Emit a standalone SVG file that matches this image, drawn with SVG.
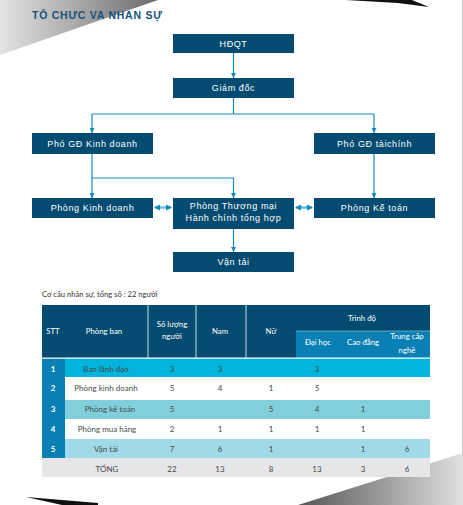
<svg xmlns="http://www.w3.org/2000/svg" width="463" height="505" viewBox="0 0 463 505">
<defs>
<linearGradient id="gTL" x1="0" y1="0" x2="1" y2="0">
<stop offset="0" stop-color="#e4e4e6"/>
<stop offset="1" stop-color="#6a6a6a"/>
</linearGradient>
<linearGradient id="gBR" x1="0" y1="0" x2="1" y2="0">
<stop offset="0" stop-color="#555555"/>
<stop offset="1" stop-color="#e0e0e2"/>
</linearGradient>
<marker id="arr" viewBox="0 0 6 6" refX="6" refY="3" markerWidth="5" markerHeight="5" orient="auto" markerUnits="userSpaceOnUse">
<path d="M0,0 L6,3 L0,6 Z" fill="#1a87bf"/>
</marker>
<marker id="arr2" viewBox="0 0 6 6" refX="5" refY="3" markerWidth="6" markerHeight="6" orient="auto-start-reverse" markerUnits="userSpaceOnUse">
<path d="M0,0 L6,3 L0,6 Z" fill="#1a87bf"/>
</marker>
</defs>
<style>
.box{fill:#034b70}
.bt{font-family:"Liberation Sans",Arial,sans-serif;font-size:9px;fill:#ffffff;text-anchor:middle;letter-spacing:0.6px}
.ln{stroke:#1a87bf;stroke-width:1.2;fill:none}
.dl{stroke:#6cbfe2;stroke-width:2.5;fill:none}
.th{font-family:Lato,"Open Sans",sans-serif;font-size:7.8px;fill:#ffffff;text-anchor:middle}
.td{font-family:Lato,"Open Sans",sans-serif;font-size:8px;fill:#4a4a4a;text-anchor:middle}
.tw{font-family:Lato,"Open Sans",sans-serif;font-size:8px;fill:#ffffff;text-anchor:middle;font-weight:bold}
</style>
<rect width="463" height="505" fill="#ffffff"/>
<polygon points="0,0 158,0 0,55" fill="url(#gTL)"/>
<polygon points="346,0 412,0 429,7 398,3" fill="#111111"/>
<line x1="462.5" y1="0" x2="462.5" y2="456" stroke="#c8c8c8" stroke-width="1"/>
<polygon points="463,453 298,505 463,505" fill="url(#gBR)"/>
<polygon points="26,497 98,503 98,505 62,505" fill="#111111"/>
<text x="32" y="19" font-family="'Liberation Sans',Arial,sans-serif" font-size="10.5" font-weight="bold" fill="#16527a" letter-spacing="0.75">TÔ CHƯC VA NHAN  SỰ</text>

<g id="connectors">
<line class="ln" x1="233.5" y1="53" x2="233.5" y2="78" marker-end="url(#arr)"/>
<polyline class="ln" points="233.5,98 233.5,114"/>
<line class="ln" x1="92" y1="114" x2="374" y2="114"/>
<line class="ln" x1="92" y1="114" x2="92" y2="133" marker-end="url(#arr)"/>
<line class="ln" x1="374" y1="114" x2="374" y2="133" marker-end="url(#arr)"/>
<line class="ln" x1="92" y1="154" x2="92" y2="198" marker-end="url(#arr)"/>
<polyline class="ln" points="92,178 233.5,178 233.5,198" marker-end="url(#arr)"/>
<line class="ln" x1="374" y1="154" x2="374" y2="198" marker-end="url(#arr)"/>
<line class="ln" x1="233.5" y1="229" x2="233.5" y2="252" marker-end="url(#arr)"/>
<line class="dl" x1="155" y1="207.5" x2="171" y2="207.5" marker-start="url(#arr2)" marker-end="url(#arr2)"/>
<line class="dl" x1="296" y1="207.5" x2="312" y2="207.5" marker-start="url(#arr2)" marker-end="url(#arr2)"/>
</g>

<g id="hdqt"><rect class="box" x="173" y="34" width="121" height="19"/><text class="bt" x="233.5" y="46.8">HĐQT</text></g>
<g id="giamdoc"><rect class="box" x="173" y="78" width="121" height="20"/><text class="bt" x="233.5" y="91.2">Giám đốc</text></g>
<g id="phogd-kd"><rect class="box" x="32" y="133" width="121" height="21"/><text class="bt" x="92.5" y="146.5">Phó GĐ Kinh doanh</text></g>
<g id="phogd-tc"><rect class="box" x="314" y="133" width="121" height="21"/><text class="bt" x="374.5" y="146.5">Phó GĐ tàichính</text></g>
<g id="phong-kd"><rect class="box" x="32" y="198" width="121" height="20"/><text class="bt" x="92.5" y="211.2">Phòng Kinh doanh</text></g>
<g id="phong-tm"><rect class="box" x="173" y="198" width="121" height="31"/><text class="bt" x="233.5" y="208.5">Phòng Thương mại</text><text class="bt" x="233.5" y="220.5">Hành chính tổng hợp</text></g>
<g id="phong-kt"><rect class="box" x="314" y="198" width="121" height="20"/><text class="bt" x="374.5" y="211.2">Phòng Kế toán</text></g>
<g id="vantai"><rect class="box" x="173" y="252" width="121" height="20"/><text class="bt" x="233.5" y="265.2">Vận tải</text></g>

<g id="table">
<text x="42" y="297" font-family="Lato,'Open Sans',sans-serif" font-size="7.6" fill="#333333">Cơ cấu nhân sự, tổng số : 22  người</text>
<rect x="42" y="305" width="388" height="53" fill="#034b70"/>
<rect x="296" y="331" width="134" height="27" fill="#0a7fb3"/>
<line x1="296" y1="331" x2="430" y2="331" stroke="#9fcfe6" stroke-width="0.6"/>
<line x1="148" y1="305" x2="148" y2="358" stroke="#ffffff" stroke-width="0.8"/>
<line x1="196" y1="305" x2="196" y2="358" stroke="#ffffff" stroke-width="0.8"/>
<line x1="246" y1="305" x2="246" y2="358" stroke="#ffffff" stroke-width="0.8"/>
<rect x="42" y="358.5" width="23" height="99.5" fill="#0a7fb3"/>
<rect x="65" y="358.5" width="365" height="18.5" fill="#00b4dc"/>
<rect x="65" y="400" width="365" height="19" fill="#80cfdb"/>
<rect x="65" y="439" width="365" height="19" fill="#a0dae8"/>
<rect x="42" y="458" width="388" height="19" fill="#e6e6e8"/>
<line x1="42" y1="358" x2="430" y2="358" stroke="#ffffff" stroke-width="1"/>

<text class="th" x="53" y="334">STT</text>
<text class="th" x="104" y="334">Phòng ban</text>
<text class="th" x="172" y="327">Số lượng</text>
<text class="th" x="172" y="339">người</text>
<text class="th" x="220" y="334">Nam</text>
<text class="th" x="271" y="334">Nữ</text>
<text class="th" x="362" y="321">Trình độ</text>
<text class="th" x="318" y="345">Đại học</text>
<text class="th" x="363" y="345">Cao đẳng</text>
<text class="th" x="407" y="339">Trung cấp</text>
<text class="th" x="407" y="353">nghề</text>

<text class="tw" x="53" y="372">1</text>
<text class="tw" x="53" y="391">2</text>
<text class="tw" x="53" y="412">3</text>
<text class="tw" x="53" y="432">4</text>
<text class="tw" x="53" y="452">5</text>

<text class="td" x="106" y="372">Ban lãnh đạo</text>
<text class="td" x="172" y="372">3</text>
<text class="td" x="220" y="372">3</text>
<text class="td" x="317" y="372">3</text>

<text class="td" x="106" y="391">Phòng kinh doanh</text>
<text class="td" x="172" y="391">5</text>
<text class="td" x="220" y="391">4</text>
<text class="td" x="271" y="391">1</text>
<text class="td" x="317" y="391">5</text>

<text class="td" x="110" y="412">Phòng kế toán</text>
<text class="td" x="172" y="412">5</text>
<text class="td" x="271" y="412">5</text>
<text class="td" x="317" y="412">4</text>
<text class="td" x="363" y="412">1</text>

<text class="td" x="107" y="432">Phòng mua hàng</text>
<text class="td" x="172" y="432">2</text>
<text class="td" x="220" y="432">1</text>
<text class="td" x="271" y="432">1</text>
<text class="td" x="317" y="432">1</text>
<text class="td" x="363" y="432">1</text>

<text class="td" x="106" y="452">Vận tải</text>
<text class="td" x="172" y="452">7</text>
<text class="td" x="220" y="452">6</text>
<text class="td" x="271" y="452">1</text>
<text class="td" x="363" y="452">1</text>
<text class="td" x="407" y="452">6</text>

<text class="td" x="107" y="472">TỔNG</text>
<text class="td" x="172" y="472">22</text>
<text class="td" x="220" y="472">13</text>
<text class="td" x="271" y="472">8</text>
<text class="td" x="317" y="472">13</text>
<text class="td" x="363" y="472">3</text>
<text class="td" x="407" y="472">6</text>
</g>
</svg>
